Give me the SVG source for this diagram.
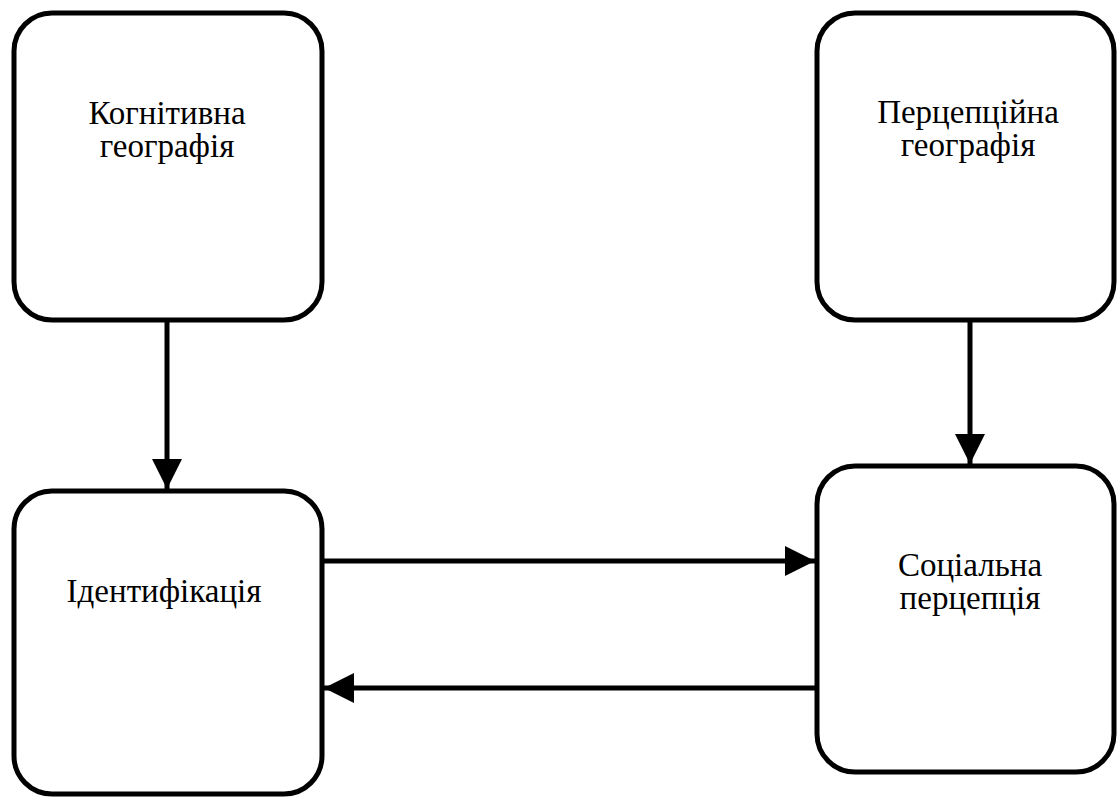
<svg xmlns="http://www.w3.org/2000/svg" width="1118" height="800" viewBox="0 0 1118 800">
<style>
.box{fill:#fff;stroke:#000;stroke-width:5}
.lbl{font-family:"Liberation Serif","Times New Roman","DejaVu Serif",serif;font-size:33px;fill:#000;text-anchor:middle}
.con{stroke:#000;stroke-width:5;fill:none;marker-end:url(#ah)}
</style>
<defs>
<marker id="ah" markerUnits="userSpaceOnUse" markerWidth="32" markerHeight="32" refX="30" refY="15" orient="auto">
<polygon points="0,0 30,15 0,30" fill="#000"/>
</marker>
</defs>
<rect width="1118" height="800" fill="#fff"/>
<g id="connectors">
<line class="con" x1="167" y1="322" x2="167" y2="489"/>
<line class="con" x1="970" y1="322" x2="970" y2="464"/>
<line class="con" x1="324" y1="561" x2="815" y2="561"/>
<line class="con" x1="815" y1="688" x2="324" y2="688"/>
</g>
<g id="node-cognitive">
<rect class="box" x="14" y="13" width="308" height="307" rx="38"/>
<text class="lbl" x="167" y="124">Когнітивна</text>
<text class="lbl" x="167" y="157">географія</text>
</g>
<g id="node-perceptual">
<rect class="box" x="817" y="13" width="297" height="307" rx="38"/>
<text class="lbl" x="968" y="123">Перцепційна</text>
<text class="lbl" x="968" y="156">географія</text>
</g>
<g id="node-identification">
<rect class="box" x="14" y="491" width="308" height="303" rx="38"/>
<text class="lbl" x="164" y="602">Ідентифікація</text>
</g>
<g id="node-social">
<rect class="box" x="817" y="466" width="297" height="306" rx="38"/>
<text class="lbl" x="970" y="576">Соціальна</text>
<text class="lbl" x="970" y="609">перцепція</text>
</g>
</svg>
